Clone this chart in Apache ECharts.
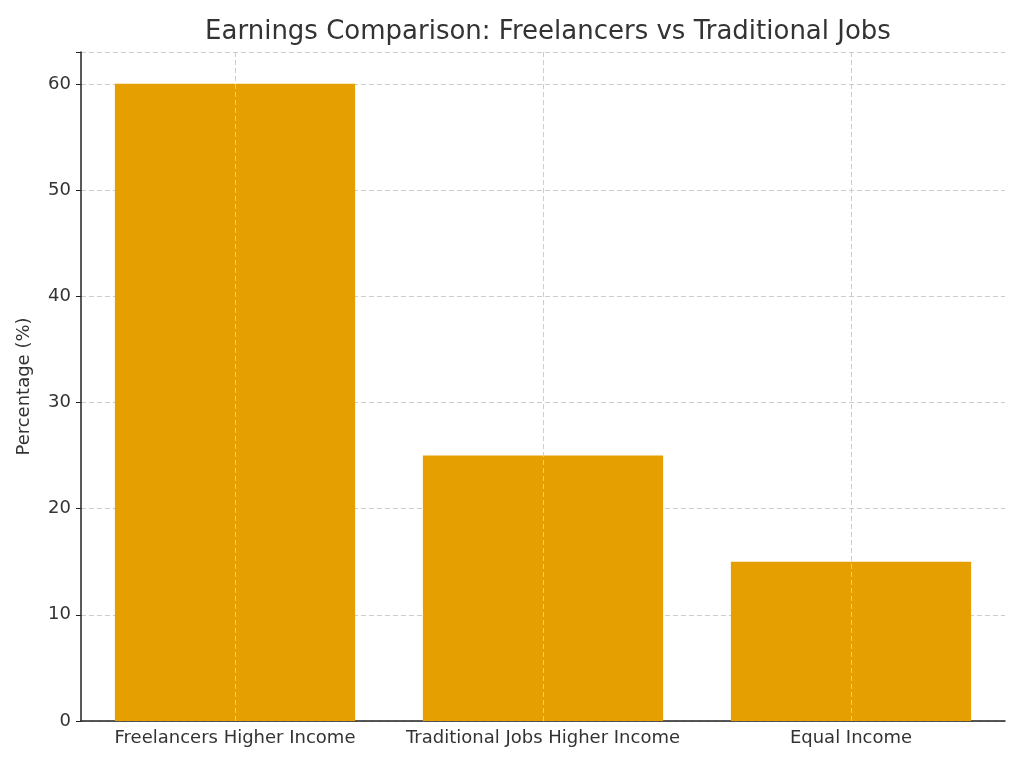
<!DOCTYPE html>
<html>
<head>
<meta charset="utf-8">
<script src="https://cdn.jsdelivr.net/npm/echarts@6/dist/echarts.min.js"></script>
<style>html,body{margin:0;padding:0;background:#fff}#chart{width:1024px;height:768px}</style>
</head>
<body>
<div id="chart"></div>
<script>
var categories = ['Freelancers Higher Income', 'Traditional Jobs Higher Income', 'Equal Income'];
var percentages = [60, 25, 15];
var yTicks = [0, 10, 20, 30, 40, 50, 60];

var chart = echarts.init(document.getElementById('chart'));
var gridLine = { color: '#cccccc', type: [5, 3], width: 1 };

chart.setOption({
    animation: false,
    title: {
        text: 'Earnings Comparison: Freelancers vs Traditional Jobs',
        left: 543, top: 14, textAlign: 'center',
        textStyle: { fontFamily: 'DejaVu Sans', fontSize: 26, fontWeight: 'normal', color: '#333333' }
    },
    grid: { left: 81, right: 19, top: 52, bottom: 47 },
    xAxis: {
        type: 'category',
        data: categories,
        axisLine: { lineStyle: { color: '#222', width: 1.5 } },
        axisTick: { alignWithLabel: true, length: 5, lineStyle: { color: '#222' } },
        axisLabel: { fontFamily: 'DejaVu Sans', fontSize: 18, color: '#333', margin: 8, interval: 0 }
    },
    yAxis: {
        type: 'value',
        min: 0, max: 63, interval: 10,
        name: 'Percentage (%)',
        nameLocation: 'middle', nameGap: 48,
        nameTextStyle: { fontFamily: 'DejaVu Sans', fontSize: 18, color: '#333' },
        axisLine: { show: true, lineStyle: { color: '#222', width: 1.5 } },
        axisTick: { show: true, length: 5, lineStyle: { color: '#222' } },
        axisLabel: {
            fontFamily: 'DejaVu Sans', fontSize: 18, color: '#333', margin: 10,
            formatter: function (v) { return yTicks.indexOf(v) >= 0 ? v : ''; }
        },
        splitLine: { show: true, lineStyle: gridLine }
    },
    series: [{
        type: 'bar',
        data: percentages,
        barWidth: '78%',
        itemStyle: { color: '#E69F00' },
        markLine: {
            silent: true,
            symbol: 'none',
            label: { show: false },
            lineStyle: gridLine,
            z: 10,
            data: categories.map(function (c) { return { xAxis: c }; })
        }
    }]
});
</script>
</body>
</html>
